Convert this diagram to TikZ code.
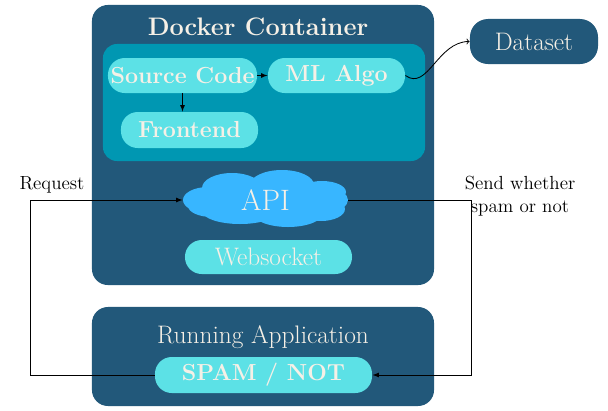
\documentclass[tikz,border=0pt]{standalone}
\usepackage{fontspec}
\definecolor{navy}{HTML}{22587A}
\definecolor{teal}{HTML}{0097B2}
\definecolor{aqua}{HTML}{5CE1E6}
\definecolor{sky}{HTML}{38B6FF}
\definecolor{cream}{HTML}{F6F0E6}
\begin{document}
\begin{tikzpicture}[x=0.025cm, y=-0.025cm, line width=0.6pt,
		panel/.style={fill=navy, rounded corners=0.4cm, minimum width=8.55cm},
		pill/.style={fill=aqua, rounded corners=0.42cm, text=cream, inner sep=0pt, minimum height=0.875cm},
		big/.style={font=\fontsize{16.5}{19}\selectfont\bfseries},
		plain/.style={font=\fontsize{18}{21}\selectfont}]
	\useasboundingbox (0, 0) rectangle (608, 410);
	% boxes
	\node[panel, minimum height=7cm] (docker) at (263, 145) {};
	\node[panel, minimum height=2.475cm] (run) at (263, 356.5) {};
	\node[fill=teal, rounded corners=0.35cm, minimum width=8.05cm, minimum height=2.925cm] (inner) at (264, 102.5) {};
	\node[text=cream, font=\fontsize{18}{21}\selectfont\bfseries] (dtitle) at (258, 27) {Docker Container};
	\node[text=cream, plain] (rtitle) at (263, 337) {Running Application};
	\node[panel, minimum width=3.2cm, minimum height=1.125cm, rounded corners=0.45cm, text=cream, plain] (data) at (534, 41.5) {Dataset};
	% pills
	\node[pill, big, minimum width=3.725cm] (src) at (182.5, 75.5) {Source Code};
	\node[pill, big, minimum width=3.425cm] (ml) at (336.5, 75.5) {ML Algo};
	\node[pill, big, minimum width=3.425cm, minimum height=0.9cm] (fe) at (189.5, 130) {Frontend};
	% cloud
	\fill[sky] (208, 200) ellipse [x radius=25, y radius=13]
		(265, 200) ellipse [x radius=72, y radius=22]
		(232, 188) ellipse [x radius=30, y radius=15]
		(282, 185) ellipse [x radius=32, y radius=15]
		(322, 192) ellipse [x radius=24, y radius=11]
		(330, 200) ellipse [x radius=18, y radius=11]
		(321, 209) ellipse [x radius=24, y radius=12]
		(288, 212) ellipse [x radius=36, y radius=15]
		(240, 211) ellipse [x radius=38, y radius=13]
		(212, 206) ellipse [x radius=24, y radius=11];
	\node[text=cream, inner sep=0pt, minimum width=4.125cm, minimum height=1.45cm, font=\fontsize{21}{24}\selectfont] (api) at (265.5, 200) {API};
	\node[pill, plain, minimum width=4.175cm, minimum height=0.85cm] (ws) at (268.5, 257) {Websocket};
	\node[pill, big, minimum width=5.425cm, minimum height=0.9cm] (spam) at (263.5, 375) {SPAM / NOT};
	% labels
	\node[font=\fontsize{13.5}{16.4}\selectfont] (req) at (52, 185) {Request};
	\node[font=\fontsize{13.5}{16.4}\selectfont, align=center] (send) at (520, 196) {Send whether\\spam or not};
	% arrows
	\draw[-latex] (src.east) -- (ml.west);
	\draw[-latex] (src.south) -- (src.south |- fe.north);
	\draw[->] (ml.east) .. controls +(22, 16) and +(-32, 0) .. (data.west);
	\coordinate (rq) at (30, 375);
	\coordinate (sd) at (471, 200);
	\draw[-latex] (spam.west) -- (rq) |- (api.west);
	\draw[-latex] (api.east) -- (sd) |- (spam.east);
\end{tikzpicture}
\end{document}
